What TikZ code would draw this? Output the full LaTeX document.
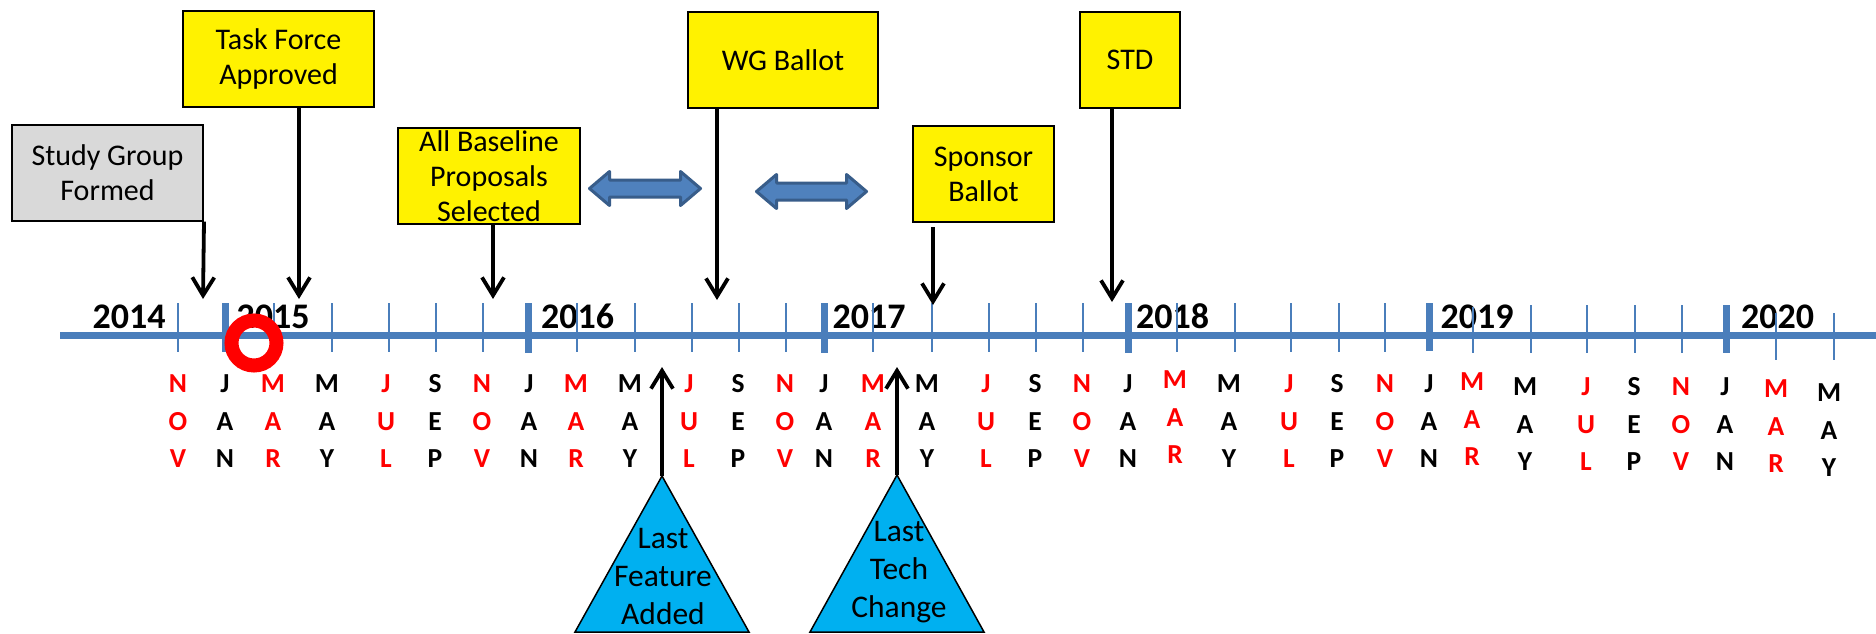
\documentclass[tikz,border=0pt]{standalone}
\usepackage{fontspec}
\setmainfont{Carlito}
\usetikzlibrary{arrows.meta}
\definecolor{axisblue}{HTML}{4A7EBB}
\definecolor{arrfill}{HTML}{4F81BD}
\definecolor{arrline}{HTML}{385D8A}
\definecolor{tricyan}{HTML}{00B0F0}
\definecolor{boxgray}{HTML}{D9D9D9}
\definecolor{mred}{HTML}{FF0000}
\begin{document}
\begin{tikzpicture}[x=1pt,y=-1pt,
  box/.style={draw=black, line width=2pt, align=center, inner sep=0pt,
    font=\fontsize{30}{35}\selectfont, minimum height=96pt},
  darrow/.style={line width=3.8pt, -{Straight Barb[length=18pt,width=22pt]}},
  yearlbl/.style={font=\bfseries\fontsize{36}{36}\selectfont, anchor=base, inner sep=0pt},
  mon/.style={font=\bfseries\fontsize{27.5}{27.5}\selectfont, anchor=base, inner sep=0pt},
  tick/.style={draw=axisblue, line width=2.2pt},
  yeartick/.style={draw=axisblue, line width=7pt},
  tri/.style={fill=tricyan, draw=black, line width=1.5pt, line join=miter},
  tritext/.style={align=center, inner sep=0pt, font=\fontsize{31.5}{38}\selectfont},
  dbl/.style={fill=arrfill, draw=arrline, line width=3pt, line join=round}
]
\fill[white] (0,0) rectangle (1876,633);
\useasboundingbox (0,0) rectangle (1876,633);

% main axis
\draw[draw=axisblue, line width=7pt] (60,335) -- (1876,335);

% year labels
\foreach \x/\yr in {129/2014, 273/2015, 577.5/2016, 869/2017, 1172.5/2018, 1477/2019, 1777.5/2020}
  \node[yearlbl] (y\yr) at (\x,328) {\yr};

% minor ticks
\foreach \x/\ya/\yb in {178/303/352, 274/303/352, 332/303/352, 389/303/352, 436/303/352, 483/303/352,
  577/303/352, 635/303/352, 692/303/352, 739/303/352, 786/303/352,
  873/303/352, 932/303/352, 989/303/352, 1036/303/352, 1083/303/352,
  1177/303/352, 1235/303/352, 1291/303/352, 1339/303/352, 1385/303/352,
  1473/307/353, 1531/305/353, 1587/305/353, 1635/305/353, 1682/305/353,
  1776/313/360, 1834/313/360}
  \draw[tick] (\x,\ya) -- (\x,\yb);
% year ticks
\foreach \x/\ya/\yb in {225/303/352, 528/303/353, 824/303/353, 1128/303/353, 1429/303/351, 1726/305/353}
  \draw[yeartick] (\x,\ya) -- (\x,\yb);

% month letters
\foreach \x/\a/\b/\c/\col/\dy [count=\i] in {
  178/N/O/V/mred/0, 225/J/A/N/black/0, 273/M/A/R/mred/0, 327/M/A/Y/black/0,
  386/J/U/L/mred/0, 435/S/E/P/black/0, 482/N/O/V/mred/0, 529/J/A/N/black/0,
  576/M/A/R/mred/0, 630/M/A/Y/black/0, 689/J/U/L/mred/0, 738/S/E/P/black/0,
  785/N/O/V/mred/0, 824/J/A/N/black/0, 873/M/A/R/mred/0, 927/M/A/Y/black/0,
  986/J/U/L/mred/0, 1035/S/E/P/black/0, 1082/N/O/V/mred/0, 1128/J/A/N/black/0,
  1175/M/A/R/mred/-4, 1229/M/A/Y/black/0, 1289/J/U/L/mred/0, 1337/S/E/P/black/0,
  1385/N/O/V/mred/0, 1429/J/A/N/black/0, 1472/M/A/R/mred/-2, 1525/M/A/Y/black/3,
  1586/J/U/L/mred/3, 1634/S/E/P/black/3, 1681/N/O/V/mred/3, 1725/J/A/N/black/3,
  1776/M/A/R/mred/5, 1829/M/A/Y/black/9} {
  \node[mon, text=\col] (m\i-1) at (\x,392+\dy) {\a};
  \node[mon, text=\col] (m\i-2) at (\x,430+\dy) {\b};
  \node[mon, text=\col] (m\i-3) at (\x,467+\dy) {\c};
}

% red ring
\draw[draw=mred, line width=14pt] (254,343) circle[radius=22.5];

% boxes
\node[box, fill=boxgray, minimum width=191pt] (sg) at (107.5,172.5) {Study Group\\Formed};
\node[box, fill=yellow, minimum width=191pt] (tf) at (278.5,59) {Task Force\\Approved};
\node[box, fill=yellow, minimum width=182pt] (bl) at (489,176) {All Baseline\\Proposals\\Selected};
\node[box, fill=yellow, minimum width=190pt] (wg) at (783,60) {WG Ballot};
\node[box, fill=yellow, minimum width=141pt] (sp) at (983.5,174) {Sponsor\\Ballot};
\node[box, fill=yellow, minimum width=100pt] (std) at (1130,60) {STD};

% arrow tips on the axis
\coordinate (tsg) at (203,299);
\coordinate (ttf) at (299,299);
\coordinate (tbl) at (493,299);
\coordinate (twg) at (717,300);
\coordinate (tsp) at (933,305);
\coordinate (spstart) at (933,227);
\coordinate (tstd) at (1112,302);

\draw[darrow] (sg.south east) -- (tsg);
\draw[darrow] (tf.south -| ttf) -- (ttf);
\draw[darrow] (bl.south -| tbl) -- (tbl);
\draw[darrow] (wg.south -| twg) -- (twg);
\draw[darrow] (spstart) -- (tsp);
\draw[darrow] (std.south -| tstd) -- (tstd);

% double arrows
\draw[dbl] (589.5,188.5) -- ++(20,-17) -- ++(0,8.5) -- ++(71,0) -- ++(0,-8.5) -- ++(20,17)
  -- ++(-20,17) -- ++(0,-8.5) -- ++(-71,0) -- ++(0,8.5) -- cycle;
\draw[dbl] (756.5,191.5) -- ++(20,-17) -- ++(0,8.5) -- ++(70,0) -- ++(0,-8.5) -- ++(20,17)
  -- ++(-20,17) -- ++(0,-8.5) -- ++(-70,0) -- ++(0,8.5) -- cycle;

% triangles
\coordinate (lfa) at (662,476);
\coordinate (ltc) at (897,475);
\draw[tri] (lfa) -- (575,632) -- (749,632) -- cycle;
\draw[tri] (ltc) -- (810,632) -- (984,632) -- cycle;
\node[tritext] (lfatext) at (663,576) {Last\\Feature\\Added};
\node[tritext] (ltctext) at (899,572) {Last\\Tech\\Change};

\coordinate (lfatip) at (662,367);
\coordinate (ltctip) at (897,367);
\draw[darrow] (lfa) -- (lfatip);
\draw[darrow] (ltc) -- (ltctip);
\end{tikzpicture}
\end{document}
